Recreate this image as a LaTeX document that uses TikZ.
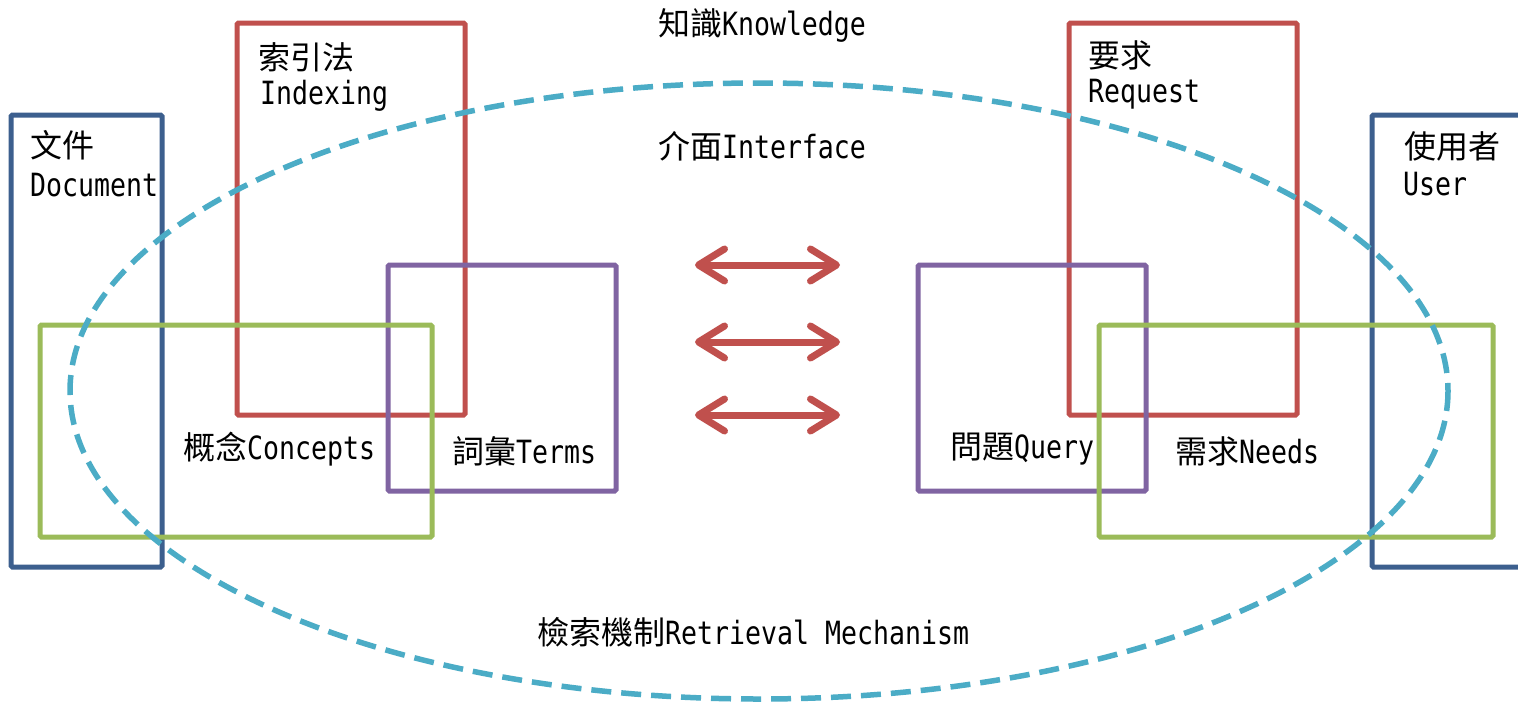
\documentclass[tikz,border=0pt]{standalone}
\usepackage{fontspec}
\usetikzlibrary{arrows.meta}
\newfontfamily\cjk{Noto Sans CJK TC}
\newfontfamily\lat[FakeStretch=0.83]{DejaVu Sans Mono}
\newcommand\mylbl[2]{{\cjk #1}{\lat #2}}
\definecolor{cblue}{HTML}{3C5F8E}
\definecolor{cred}{HTML}{C0504D}
\definecolor{cpurple}{HTML}{8064A2}
\definecolor{cgreen}{HTML}{9BBB59}
\definecolor{ccyan}{HTML}{4BACC6}
\tikzset{
  box/.style={line width=5pt, rounded corners=1.5pt},
  bluebox/.style={box, draw=cblue},
  redbox/.style={box, draw=cred},
  purplebox/.style={box, draw=cpurple},
  greenbox/.style={box, draw=cgreen},
  ring/.style={draw=ccyan, line width=5.5pt, dash pattern=on 20pt off 10pt},
  dblarrow/.style={draw=cred, line width=7pt, line cap=round,
    {Straight Barb[length=26pt,width=32pt,round]}-{Straight Barb[length=26pt,width=32pt,round]}},
  txt/.style={inner sep=0pt, anchor=west, font=\fontsize{32}{36}\selectfont, text=black},
  ctxt/.style={inner sep=0pt, anchor=center, font=\fontsize{32}{36}\selectfont, text=black}
}
\begin{document}
\begin{tikzpicture}[x=1pt,y=-1pt]
\useasboundingbox (0,0) rectangle (1518,705);
\fill[white] (0,0) rectangle (1518,705);
% boxes
\draw[bluebox] (11,115) rectangle (162,567);
\draw[bluebox] (1372,115) rectangle (1540,567);
\draw[redbox] (237,23) rectangle (465,415);
\draw[redbox] (1069,23) rectangle (1297,415);
\draw[purplebox] (388,265) rectangle (616,491);
\draw[purplebox] (918,265) rectangle (1146,491);
\draw[greenbox] (40,325) rectangle (432,537);
\draw[greenbox] (1099,325) rectangle (1493,537);
% ellipse
\draw[ring] (759,391) ellipse [x radius=689, y radius=308];
% arrows
\coordinate (a1l) at (695,265); \coordinate (a1r) at (840,265);
\coordinate (a2l) at (695,342); \coordinate (a2r) at (840,342);
\coordinate (a3l) at (695,415); \coordinate (a3r) at (840,415);
\draw[dblarrow] (a1l) -- (a1r);
\draw[dblarrow] (a2l) -- (a2r);
\draw[dblarrow] (a3l) -- (a3r);
% texts
\node[ctxt] (know) at (762,25) {\mylbl{知識}{Knowledge}};
\node[ctxt] (intf) at (762,146) {\mylbl{介面}{Interface}};
\node[txt] (idx1) at (258,57) {\mylbl{索引法}{}};
\node[txt] (idx2) at (260,96) {\mylbl{}{Indexing}};
\node[txt] (doc1) at (30,145) {\mylbl{文件}{}};
\node[txt] (doc2) at (30,185) {\mylbl{}{Document}};
\node[txt] (req1) at (1088,55) {\mylbl{要求}{}};
\node[txt] (req2) at (1088,94) {\mylbl{}{Request}};
\node[txt] (usr1) at (1404,146) {\mylbl{使用者}{}};
\node[txt] (usr2) at (1403,184) {\mylbl{}{User}};
\node[txt] (conc) at (183,449) {\mylbl{概念}{Concepts}};
\node[txt] (term) at (452,451) {\mylbl{詞彙}{Terms}};
\node[txt] (qry) at (950,449) {\mylbl{問題}{Query}};
\node[txt] (need) at (1175,451) {\mylbl{需求}{Needs}};
\node[txt] (mech) at (537,632) {\mylbl{檢索機制}{Retrieval Mechanism}};
\end{tikzpicture}
\end{document}
